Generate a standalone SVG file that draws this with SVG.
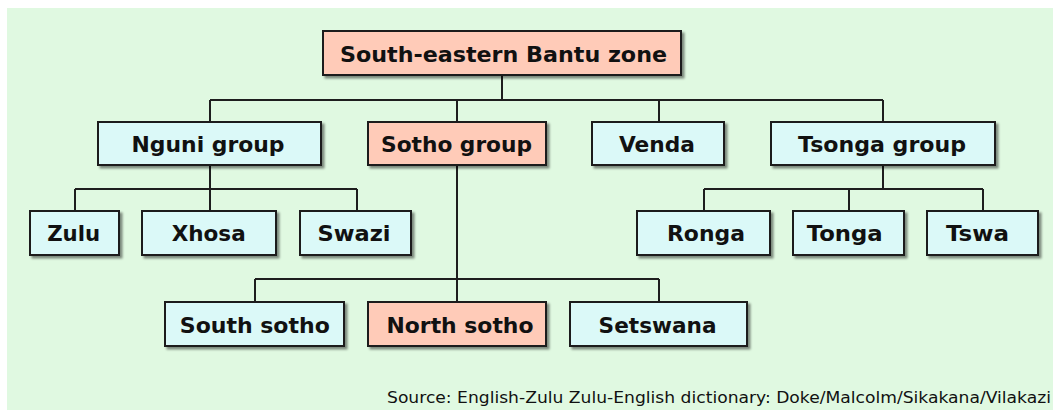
<svg xmlns="http://www.w3.org/2000/svg" width="1053" height="410" viewBox="0 0 1053 410">
<defs>
<style>
.box{stroke:#1e1e1e;stroke-width:2;filter:url(#sh)}
.blue{fill:#dbf9f8}
.pink{fill:#ffcbb8}
.lbl{font-family:"DejaVu Sans",Verdana,sans-serif;font-weight:bold;font-size:21px;fill:#111;text-anchor:middle}
.src{font-family:"DejaVu Sans",Verdana,sans-serif;font-size:15px;fill:#111}
.con{stroke:#1e1e1e;stroke-width:2;fill:none}
</style>
<filter id="sh" x="-10%" y="-20%" width="130%" height="150%">
<feDropShadow dx="2.5" dy="2.5" stdDeviation="1.2" flood-color="#000" flood-opacity="0.45"/>
</filter>
</defs>
<rect x="0" y="0" width="1053" height="410" fill="#ffffff"/>
<rect x="7" y="8" width="1046" height="402" fill="#e0f9e1"/>
<g id="connectors" class="con">
<path d="M502 75V100M210 100H883M210 100V122M457 100V122M659 100V122M883 100V122"/>
<path d="M210 165V189M75 189H357M75 189V211M210 189V211M357 189V211"/>
<path d="M457 165V302M255 279H659M255 279V302M659 279V302"/>
<path d="M883 165V189M704 189H983M704 189V211M849 189V211M983 189V211"/>
</g>
<g id="root"><rect class="box pink" x="323" y="31" width="358" height="44"/><text class="lbl" x="503.5" y="62" textLength="327" lengthAdjust="spacingAndGlyphs">South-eastern Bantu zone</text></g>
<g id="nguni"><rect class="box blue" x="98" y="122" width="223" height="43"/><text class="lbl" x="208" y="152" textLength="153" lengthAdjust="spacingAndGlyphs">Nguni group</text></g>
<g id="sotho"><rect class="box pink" x="368" y="122" width="178" height="43"/><text class="lbl" x="456.5" y="152" textLength="151" lengthAdjust="spacingAndGlyphs">Sotho group</text></g>
<g id="venda"><rect class="box blue" x="592" y="122" width="132" height="43"/><text class="lbl" x="657" y="152" textLength="76" lengthAdjust="spacingAndGlyphs">Venda</text></g>
<g id="tsonga"><rect class="box blue" x="771" y="122" width="224" height="43"/><text class="lbl" x="882" y="152" textLength="168" lengthAdjust="spacingAndGlyphs">Tsonga group</text></g>
<g id="zulu"><rect class="box blue" x="30" y="211" width="89" height="44"/><text class="lbl" x="73.7" y="241" textLength="53" lengthAdjust="spacingAndGlyphs">Zulu</text></g>
<g id="xhosa"><rect class="box blue" x="142" y="211" width="134" height="44"/><text class="lbl" x="208.7" y="241" textLength="74" lengthAdjust="spacingAndGlyphs">Xhosa</text></g>
<g id="swazi"><rect class="box blue" x="300" y="211" width="111" height="44"/><text class="lbl" x="354" y="241" textLength="73" lengthAdjust="spacingAndGlyphs">Swazi</text></g>
<g id="ronga"><rect class="box blue" x="637" y="211" width="133" height="44"/><text class="lbl" x="706" y="241" textLength="78" lengthAdjust="spacingAndGlyphs">Ronga</text></g>
<g id="tonga"><rect class="box blue" x="793" y="211" width="111" height="44"/><text class="lbl" x="844.7" y="241" textLength="76" lengthAdjust="spacingAndGlyphs">Tonga</text></g>
<g id="tswa"><rect class="box blue" x="927" y="211" width="111" height="44"/><text class="lbl" x="977.5" y="241" textLength="63" lengthAdjust="spacingAndGlyphs">Tswa</text></g>
<g id="south-sotho"><rect class="box blue" x="165" y="302" width="179" height="44"/><text class="lbl" x="254.8" y="332.5" textLength="150" lengthAdjust="spacingAndGlyphs">South sotho</text></g>
<g id="north-sotho"><rect class="box pink" x="368" y="302" width="178" height="44"/><text class="lbl" x="460" y="332.5" textLength="147" lengthAdjust="spacingAndGlyphs">North sotho</text></g>
<g id="setswana"><rect class="box blue" x="570" y="302" width="177" height="44"/><text class="lbl" x="657.6" y="332.5" textLength="118" lengthAdjust="spacingAndGlyphs">Setswana</text></g>
<text class="src" x="387" y="403" textLength="664" lengthAdjust="spacingAndGlyphs">Source: English-Zulu Zulu-English dictionary: Doke/Malcolm/Sikakana/Vilakazi</text>
</svg>
